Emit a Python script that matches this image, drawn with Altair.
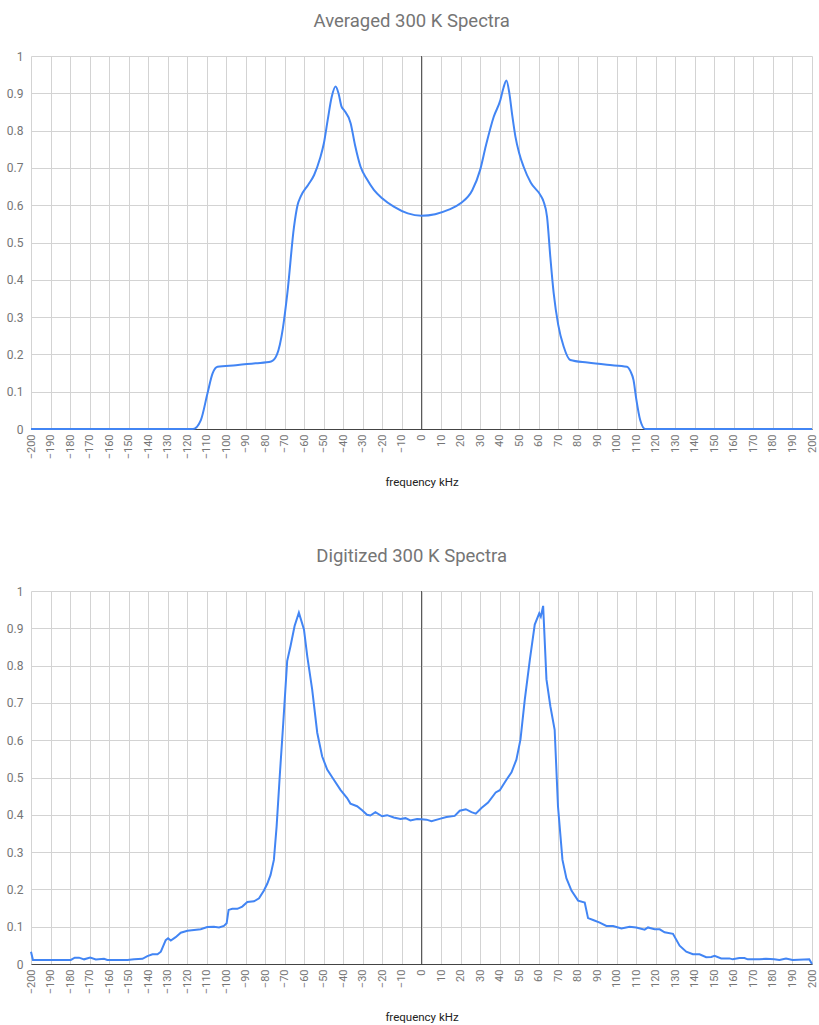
import altair as alt
import pandas as pd

# Averaged spectrum (smooth curve)
avg_freq = [-200, -117, -113, -109.6, -107, -104.5, -95, -85, -77, -74, -71, -68.7,
            -65.3, -63.5, -61.9, -58, -55, -52, -50, -48, -46, -44, -42.5, -41,
            -39.7, -36.3, -34, -31.2, -28, -24.4, -20, -14.2, -7, 0, 7, 14, 20, 26,
            30, 33, 37, 40.4, 42, 43.5, 45, 46.5, 48.1, 50, 52.3, 56, 60.9, 62.5,
            64.3, 66, 67.7, 70, 72.8, 76.2, 85, 95, 105.2, 107, 108.6, 110, 112,
            114.6, 200]
avg_val = [0, 0, 0.024, 0.096, 0.149, 0.167, 0.171, 0.176, 0.181, 0.2, 0.27, 0.364,
           0.542, 0.6, 0.623, 0.655, 0.681, 0.725, 0.766, 0.83, 0.89, 0.918, 0.9,
           0.865, 0.855, 0.82, 0.76, 0.703, 0.67, 0.641, 0.618, 0.596, 0.578, 0.572,
           0.576, 0.588, 0.605, 0.64, 0.694, 0.76, 0.837, 0.882, 0.915, 0.934, 0.9,
           0.84, 0.784, 0.74, 0.703, 0.66, 0.627, 0.61, 0.569, 0.46, 0.364, 0.28,
           0.221, 0.185, 0.178, 0.172, 0.167, 0.155, 0.131, 0.08, 0.024, 0, 0]

dig_freq = [-200, -199, -179.6, -177.6, -175.4, -172.8, -169.7, -166.8, -162.6, -160.9,
            -150.6, -147.2, -142.9, -140.4, -137.8, -135.2, -133.5, -131, -129.8,
            -128.4, -125.9, -123.3, -119.9, -116.5, -113.1, -109.7, -106.3, -103.7,
            -101.2, -99.8, -98.8, -96.9, -94.3, -91.8, -89.2, -85.8, -83.2, -80.7,
            -79, -77.3, -75.6, -74.2, -72.5, -70.8, -68.8, -67.1, -65, -62.8, -60.2,
            -58.5, -56, -53.4, -50.9, -48.3, -44.9, -41.5, -38.1, -36.4, -33, -30.4,
            -27.9, -26.2, -23.6, -20.2, -17.6, -14.2, -10.8, -8.2, -5.7, -2.3, 0,
            2.6, 5.1, 9.3, 12.8, 17, 19.6, 22.7, 25.6, 27.8, 30.7, 34.1, 38, 40.1,
            43.5, 46.1, 48.6, 50.7, 52.9, 55.5, 58, 60.3, 61.1, 62.3, 64, 66, 68.2,
            69.9, 72.2, 74.2, 76.8, 80.2, 83.6, 85.3, 87.9, 91.3, 94.7, 98.1, 102.4,
            106.6, 110, 114.3, 116, 119.4, 122, 124.5, 128.8, 132.2, 135.6, 139,
            142.4, 145.8, 148.4, 150.1, 153.5, 157.7, 159.4, 162.8, 165.4, 167.1,
            173, 176.4, 180.7, 183.3, 186.7, 190.1, 198.6, 200]
dig_val = [0.033, 0.011, 0.011, 0.017, 0.017, 0.0125, 0.017, 0.012, 0.014, 0.011,
           0.011, 0.013, 0.014, 0.021, 0.026, 0.026, 0.033, 0.064, 0.069, 0.063,
           0.072, 0.084, 0.089, 0.091, 0.093, 0.099, 0.1, 0.098, 0.102, 0.109,
           0.145, 0.148, 0.148, 0.154, 0.166, 0.168, 0.176, 0.197, 0.215, 0.239,
           0.279, 0.369, 0.512, 0.646, 0.812, 0.852, 0.906, 0.942, 0.897, 0.825,
           0.736, 0.62, 0.557, 0.521, 0.494, 0.467, 0.445, 0.43, 0.423, 0.412, 0.4,
           0.398, 0.407, 0.396, 0.399, 0.393, 0.389, 0.391, 0.385, 0.389, 0.388,
           0.387, 0.383, 0.389, 0.394, 0.397, 0.411, 0.415, 0.407, 0.403, 0.418,
           0.433, 0.46, 0.466, 0.494, 0.514, 0.548, 0.602, 0.709, 0.816, 0.91, 0.94,
           0.931, 0.96, 0.763, 0.691, 0.628, 0.423, 0.279, 0.23, 0.197, 0.17, 0.165,
           0.123, 0.118, 0.111, 0.102, 0.102, 0.095, 0.1, 0.098, 0.092, 0.098,
           0.093, 0.093, 0.085, 0.081, 0.049, 0.033, 0.026, 0.026, 0.018, 0.019,
           0.022, 0.015, 0.015, 0.0125, 0.016, 0.016, 0.0125, 0.013, 0.014, 0.013,
           0.011, 0.015, 0.011, 0.0125, 0.0]

x_ticks = list(range(-200, 201, 10))
y_ticks = [0, 0.1, 0.2, 0.3, 0.4, 0.5, 0.6, 0.7, 0.8, 0.9, 1]

LINE_COLOR = "#4285F4"
W, H = 781, 373


def panel(freq, val, title, interp):
    df = pd.DataFrame({"freq": freq, "val": val})
    x_enc = alt.X(
        "freq:Q",
        scale=alt.Scale(domain=[-200, 200], nice=False, zero=False),
        axis=alt.Axis(
            values=x_ticks, format="d", labelAngle=270, title="frequency kHz",
            ticks=False, labelPadding=5, labelFontSize=11, labelColor="#757575",
            titleFontSize=11.5, titleColor="#222222", titleFontWeight="normal",
            titlePadding=18, domain=True, domainColor="#444444",
            gridColor="#d3d3d3", labelOverlap=False, labelFlush=False,
        ),
    )
    y_enc = alt.Y(
        "val:Q",
        scale=alt.Scale(domain=[0, 1], nice=False),
        axis=alt.Axis(
            values=y_ticks, format="~g", title=None, ticks=False, domain=False,
            labelPadding=8, labelFontSize=12, labelColor="#757575",
            gridColor="#d3d3d3",
        ),
    )
    zero_line = (
        alt.Chart(pd.DataFrame({"freq": [0]}))
        .mark_rule(color="#5a5a5a", strokeWidth=1)
        .encode(x=x_enc)
    )
    curve = (
        alt.Chart(df)
        .mark_line(color=LINE_COLOR, strokeWidth=2, interpolate=interp)
        .encode(x=x_enc, y=y_enc)
    )
    return alt.layer(zero_line, curve).properties(
        width=W, height=H,
        title=alt.TitleParams(
            text=title, fontSize=18.5, color="#757575", fontWeight="normal",
            anchor="middle", frame="bounds", offset=20,
        ),
    )


top = panel(avg_freq, avg_val, "Averaged 300 K Spectra", "monotone")
bottom = panel(dig_freq, dig_val, "Digitized 300 K Spectra", "linear")

chart = (
    alt.vconcat(top, bottom, spacing=57)
    .properties(padding={"left": 6, "top": 11, "right": 0, "bottom": 0})
    .configure(font="Roboto")
    .configure_view(stroke=None)
    .configure_title(font="Roboto")
    .configure_axis(labelFont="Roboto", titleFont="Roboto")
)

chart.save("out.html", embed_options={"renderer": "svg", "actions": False})
